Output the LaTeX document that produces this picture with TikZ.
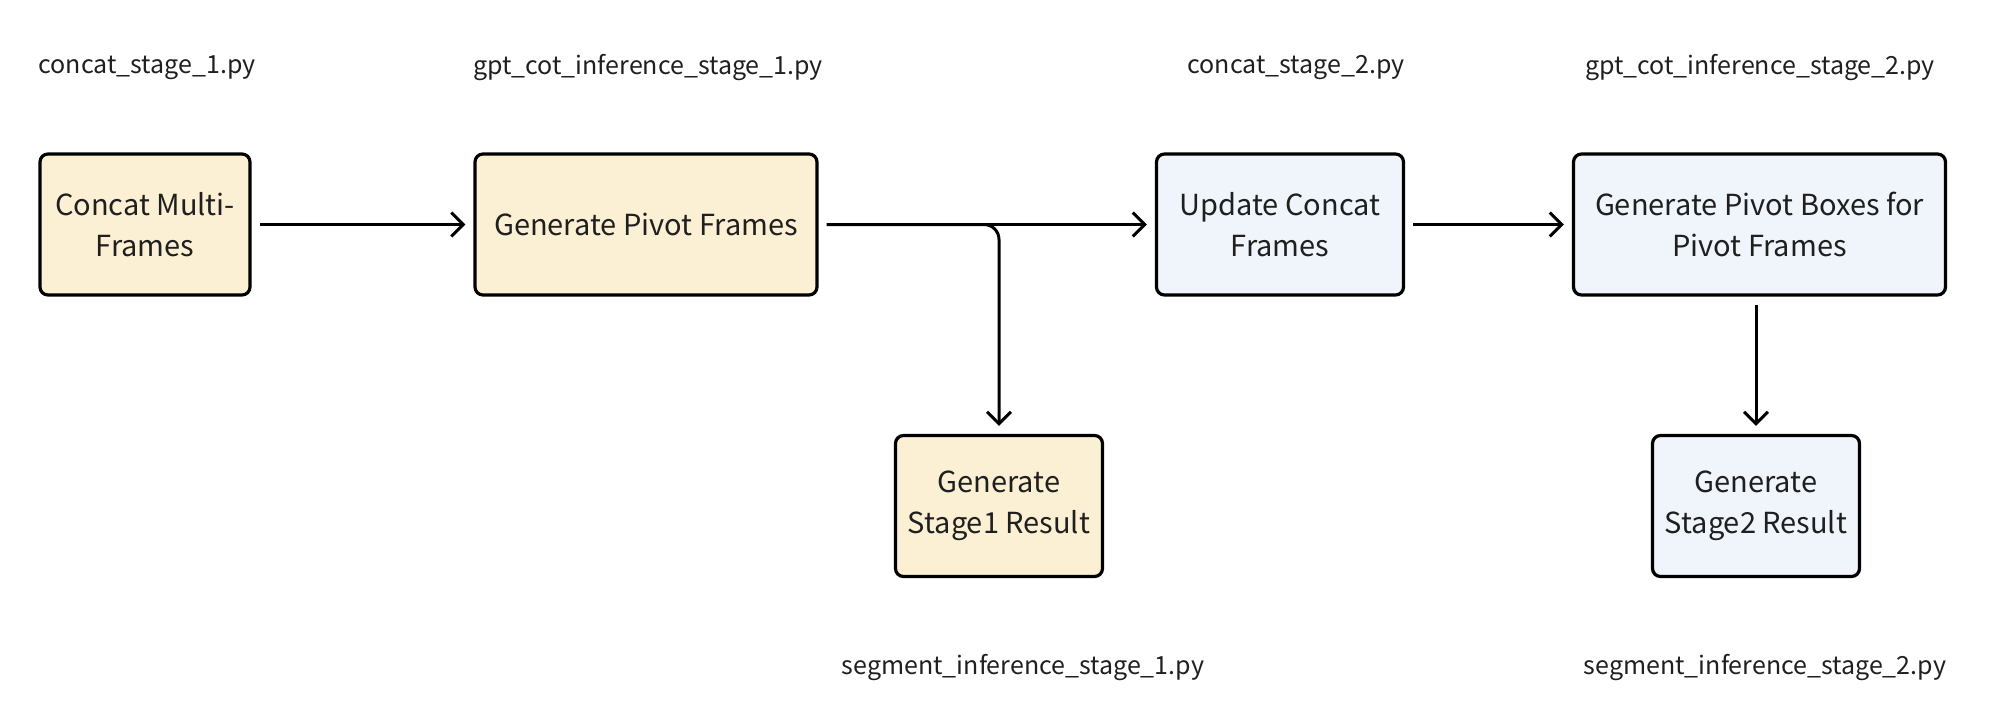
\documentclass[tikz,border=0pt]{standalone}
\usepackage{fontspec}
\setmainfont{Noto Sans CJK SC}
\usetikzlibrary{arrows.meta}

\definecolor{stageone}{HTML}{FCF0D4}
\definecolor{stagetwo}{HTML}{F0F4FB}
\definecolor{inktext}{HTML}{1F1F1F}

\begin{document}
\begin{tikzpicture}[x=0.5pt, y=-0.5pt,
    box/.style = {draw, line width=1.6pt, rounded corners=4pt, align=center,
      text=inktext, font=\fontsize{14.5}{20.5}\selectfont},
    script/.style = {text=inktext, font=\fontsize{12.5}{15}\selectfont},
    flow/.style = {line width=1.5pt, -{Straight Barb[length=6pt, width=12pt, line width=1.5pt]},
      shorten <=4pt, shorten >=4pt}]
    \useasboundingbox (0,0) rectangle (1996,706);
    % stage 1
    \draw node [box, minimum width=105pt, minimum height=70.5pt, fill=stageone] (cms) at (145,224.5) {Concat Multi-\\Frames};
    \draw node [box, minimum width=171pt, minimum height=70.5pt, fill=stageone] (gpf) at (646,224.5) {Generate Pivot Frames};
    \draw node [box, minimum width=103.5pt, minimum height=70.5pt, fill=stageone] (res1) at (999,506) {Generate\\Stage1 Result};
    % stage 2
    \draw node [box, minimum width=123.5pt, minimum height=70.5pt, fill=stagetwo] (ucf) at (1280,224.5) {Update Concat\\Frames};
    \draw node [box, minimum width=186pt, minimum height=70.5pt, fill=stagetwo] (gpb) at (1759.5,224.5) {Generate Pivot Boxes for\\Pivot Frames};
    \draw node [box, minimum width=103.5pt, minimum height=70.5pt, fill=stagetwo] (res2) at (1756,506) {Generate\\Stage2 Result};
    % scripts
    \node [script] (s1) at (147,68) {concat\_stage\_1.py};
    \node [script] (s2) at (648,68) {gpt\_cot\_inference\_stage\_1.py};
    \node [script] (s3) at (1296,68) {concat\_stage\_2.py};
    \node [script] (s4) at (1760,68) {gpt\_cot\_inference\_stage\_2.py};
    \node [script] (s5) at (1023,668) {segment\_inference\_stage\_1.py};
    \node [script] (s6) at (1765,668) {segment\_inference\_stage\_2.py};
    % connectors
    \draw [flow] (cms) -- (gpf);
    \draw [flow] (gpf) -- (ucf);
    \draw [flow, rounded corners=7.5pt] (gpf.east) -| (res1.north);
    \draw [flow] (ucf) -- (gpb);
    \draw [flow] (gpb.south -| res2.north) -- (res2.north);
  \end{tikzpicture}
\end{document}
